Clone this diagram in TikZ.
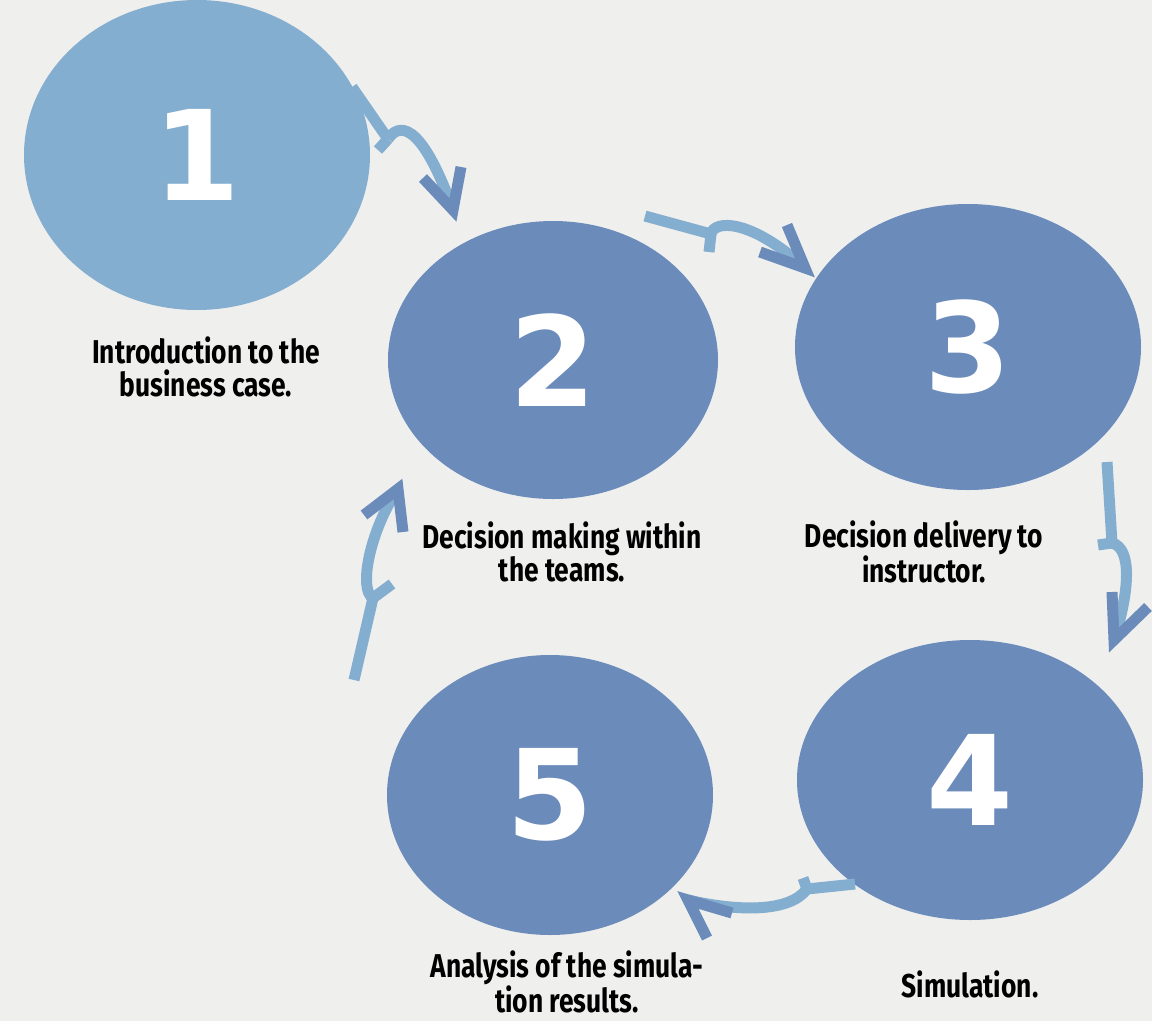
\documentclass[tikz,border=0pt]{standalone}
\usepackage{fontspec}
\usetikzlibrary{shapes.geometric}
\newfontfamily\numfont{DejaVu Sans}
\newfontfamily\labfont[FakeStretch=0.8]{Fira Sans}
\definecolor{paper}{HTML}{EFEFEE}
\definecolor{lightb}{HTML}{84AECF}
\definecolor{darkb}{HTML}{6B8BBA}
\tikzset{
  bubble/.style={ellipse, fill=darkb, inner sep=0pt, text=white, font=\numfont\bfseries\fontsize{125}{125}\selectfont},
  lab/.style={align=center, font=\labfont\bfseries\fontsize{33}{33}\selectfont, text=black, inner sep=0pt},
  conn/.style={draw=lightb, line width=11pt},
  tip/.style={draw=darkb, line width=11pt, line join=miter},
}
\begin{document}
\begin{tikzpicture}[x=1pt,y=-1pt]
\useasboundingbox (0,0) rectangle (1152,1021);
\fill[paper] (0,0) rectangle (1152,1021);

% circles
\node[bubble, fill=lightb, minimum width=346pt, minimum height=310pt] (e1) at (197,155) {1};
\node[bubble, minimum width=330pt, minimum height=278pt] (e2) at (553,360) {2};
\node[bubble, minimum width=346pt, minimum height=286pt] (e3) at (968,347) {3};
\node[bubble, minimum width=346pt, minimum height=280pt] (e4) at (970,780) {4};
\node[bubble, minimum width=326pt, minimum height=280pt] (e5) at (550,795) {5};

% labels
\node[lab] (l1) at (206,367) {Introduction to the\\business case.};
\node[lab] (l2) at (562,552) {Decision making within\\the teams.};
\node[lab] (l3) at (924,552) {Decision delivery to\\instructor.};
\node[lab] (l5) at (567,982) {Analysis of the simula-\\tion results.};
\node[lab] (l4) at (970,984) {Simulation.};

% arrow 1 -> 2
\coordinate (a1s) at (352,87);
\coordinate (a1m) at (388,139);
\coordinate (a1k) at (378,150);
\coordinate (a1t) at (453,210);
\draw[conn] (a1s) -- (a1m);
\draw[conn] (a1m) -- (a1k);
\draw[conn] (a1m) .. controls (398,124) and (420,118) .. (a1t);
\draw[tip] (423,178) -- (a1t) -- (461,167);

% arrow 2 -> 3
\coordinate (a2s) at (645,216);
\coordinate (a2m) at (711,234);
\coordinate (a2k) at (709,252);
\coordinate (a2t) at (805,268);
\draw[conn] (a2s) -- (a2m);
\draw[conn] (a2m) -- (a2k);
\draw[conn] (a2m) .. controls (714,220) and (750,218) .. (a2t);
\draw[tip] (787,225) -- (a2t) -- (760,252);

% arrow 3 -> 4
\coordinate (a3s) at (1107,462);
\coordinate (a3m) at (1112,543);
\coordinate (a3k) at (1098,545);
\coordinate (a3t) at (1114,640);
\draw[conn] (a3s) -- (a3m);
\draw[conn] (a3m) -- (a3k);
\draw[conn] (a3m) .. controls (1132,548) and (1130,590) .. (a3t);
\draw[tip] (1112,592) -- (a3t) -- (1148,607);

% arrow 4 -> 5
\coordinate (a4s) at (855,884);
\coordinate (a4m) at (807,889);
\coordinate (a4k) at (803,878);
\coordinate (a4t) at (688,900);
\draw[conn] (a4s) -- (a4m);
\draw[conn] (a4m) -- (a4k);
\draw[conn] (a4m) .. controls (790,912) and (740,912) .. (a4t);
\draw[tip] (732,913) -- (a4t) -- (707,938);

% arrow 5 -> 2
\coordinate (a5s) at (354,680);
\coordinate (a5m) at (373,598);
\coordinate (a5k) at (392,584);
\coordinate (a5t) at (398,489);
\draw[conn] (a5s) -- (a5m);
\draw[conn] (a5m) -- (a5k);
\draw[conn] (a5m) .. controls (358,590) and (370,530) .. (a5t);
\draw[tip] (364,515) -- (a5t) -- (403,532);
\end{tikzpicture}
\end{document}
